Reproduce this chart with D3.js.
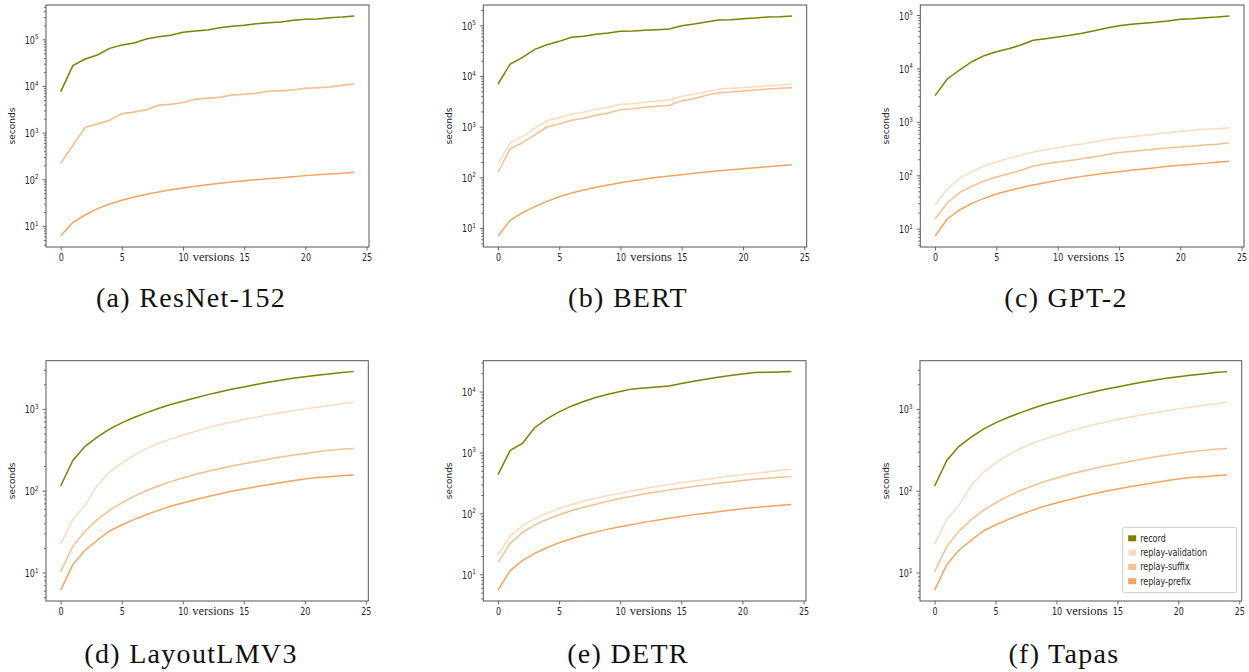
<!DOCTYPE html>
<html lang="en">
<head>
<meta charset="UTF-8">
<title>Record and replay time per version</title>
<script src="https://d3js.org/d3.v7.min.js"></script>
<style>
  body { margin: 0; background: #fff; }
  svg text { fill: #262626; font-family: "DejaVu Sans", sans-serif; }
  .tick line { stroke: #444; stroke-width: 0.8; }
  .domain { display: none; }
  .frame { fill: none; stroke: #555; stroke-width: 1; }
  .line { fill: none; stroke-width: 1.5; }
  .caption { font-family: "Liberation Serif", serif !important; font-size: 28px; letter-spacing: 1.3px; fill: #111 !important; text-anchor: middle; }
  .xlabel { font-family: "Liberation Serif", serif !important; font-size: 12.5px; text-anchor: middle; }
</style>
</head>
<body>
<svg id="svg" width="1249" height="672"></svg>
<script>
// x categories and series names
const versions = [0, 1, 2, 3, 4, 5, 6, 7, 8, 9, 10, 11, 12, 13, 14, 15, 16, 17, 18, 19, 20, 21, 22, 23, 24];
const xTicks = [0, 5, 10, 15, 20, 25];
const seriesNames = ["record", "replay-validation", "replay-suffix", "replay-prefix"];
const captions = ["(a) ResNet-152", "(b) BERT", "(c) GPT-2", "(d) LayoutLMV3", "(e) DETR", "(f) Tapas"];

// seconds per version
const resnetRecord = [7570, 27300, 37900, 46200, 64100, 75600, 83400, 101600, 114000, 121900, 141300, 150900, 158500, 177800, 190000, 199500, 216600, 227500, 235000, 255500, 268300, 272900, 291300, 301200, 316200];
const resnetValidation = [220, 535, 1300, 1535, 1840, 2550, 2770, 3110, 3850, 4050, 4400, 5180, 5440, 5710, 6410, 6630, 6960, 7690, 7940, 8200, 8910, 9200, 9520, 10330, 11040];
const resnetSuffix = [220, 535, 1300, 1535, 1840, 2550, 2770, 3110, 3850, 4050, 4400, 5180, 5440, 5710, 6410, 6630, 6960, 7690, 7940, 8200, 8910, 9200, 9520, 10330, 11040];
const resnetPrefix = [6.1, 12.0, 17.2, 23.5, 29.6, 35.5, 41.8, 47.7, 53.5, 60, 65.2, 70.8, 76.9, 82, 87.7, 93.6, 98.3, 103, 108.6, 114, 120, 126, 130, 134.5, 141];

const bertRecord = [6950, 17260, 23350, 33600, 41500, 48300, 57900, 60700, 66400, 70600, 76200, 77300, 79600, 82100, 84700, 98500, 106200, 116300, 127400, 129400, 135500, 139700, 146000, 148300, 152800];
const bertValidation = [189, 483, 635, 927, 1312, 1505, 1778, 1918, 2198, 2408, 2760, 2845, 3020, 3210, 3360, 3970, 4350, 4910, 5540, 5710, 5890, 6160, 6440, 6640, 6850];
const bertSuffix = [126, 368, 483, 685, 984, 1130, 1335, 1460, 1675, 1862, 2168, 2267, 2408, 2520, 2640, 3260, 3570, 4150, 4690, 4830, 5060, 5300, 5540, 5710, 5890];
const bertPrefix = [6.95, 14.2, 20.1, 26.4, 33.6, 41.5, 49.1, 56.2, 63.5, 70.6, 78.5, 86, 92.7, 100, 106, 113, 120, 127.5, 135.5, 141.6, 148, 155, 162.5, 170, 178];

const gpt2Record = [3090, 6340, 9340, 13360, 17330, 20590, 23440, 27430, 33560, 36060, 38730, 41610, 45380, 50900, 57100, 63100, 66850, 69800, 72900, 77200, 82970, 85400, 89200, 91800, 95800];
const gpt2Validation = [27.7, 55.3, 87.6, 116.7, 149, 177, 207, 236, 272, 301, 328, 358, 385, 425, 464, 498, 527, 559, 592, 627, 664, 694, 725, 745, 778];
const gpt2Suffix = [15.2, 30.3, 47.2, 62.1, 78, 92.7, 107, 124, 149, 162.5, 177, 190, 204, 223, 246, 268, 280, 293, 310, 324, 338, 353, 368, 379, 407];
const gpt2Prefix = [7.3, 15.2, 22.4, 29.8, 37, 44.6, 51.4, 58.6, 65.7, 72.6, 80.3, 87.6, 95.4, 102.6, 110, 116.7, 123.6, 131, 138.7, 147, 153.5, 160, 167, 174.6, 182.5];

const layoutRecord = [114, 234, 348, 451, 565, 675, 784, 894, 1009, 1130, 1240, 1361, 1482, 1611, 1738, 1855, 1981, 2115, 2237, 2368, 2477, 2572, 2672, 2775, 2853];
const layoutValidation = [22.2, 44.7, 66.2, 116, 169, 217, 270, 325, 378, 427, 477, 529, 586, 638, 688, 741, 791, 845, 894, 946, 1000, 1048, 1099, 1151, 1206];
const layoutSuffix = [10.2, 20.9, 31.9, 44.3, 57.5, 70.8, 85.4, 100, 114, 129, 143, 158, 172, 185, 200, 213, 228, 243, 258, 272, 285, 299, 311, 320, 328];
const layoutPrefix = [6.1, 12.5, 18.7, 24.8, 32.2, 38.1, 44.3, 50.9, 57.5, 64.4, 70.8, 77.6, 84.5, 91, 98.2, 104.8, 111.9, 118.4, 125.3, 132.5, 138.8, 144.5, 148.5, 152, 155];

const detrRecord = [432, 1081, 1409, 2543, 3570, 4650, 5750, 6860, 7980, 9040, 10000, 11060, 11480, 11920, 12380, 13520, 14760, 15920, 17170, 18290, 19460, 20470, 20720, 20990, 21240];
const detrValidation = [21.2, 42.4, 62.5, 81.5, 100.8, 120, 140, 158, 177, 196, 214, 236, 257, 278, 299, 320, 341, 363, 387, 411, 432, 455, 479, 504, 529];
const detrSuffix = [15.7, 32.1, 48.6, 64.1, 79.4, 94.6, 110, 126, 141.5, 158, 175, 191, 209, 225, 243, 258, 275, 293, 312, 328, 345, 363, 377, 391, 401];
const detrPrefix = [5.5, 11.5, 16.7, 22, 27.3, 33, 38.3, 44, 49.2, 55.1, 60.2, 65.8, 71.8, 77.4, 83.4, 88.9, 94.6, 100.8, 106, 112.8, 118.6, 124.7, 129.5, 134.5, 139.6];

const tapasRecord = [114, 234, 348, 451, 565, 675, 784, 894, 1009, 1130, 1240, 1361, 1482, 1611, 1738, 1855, 1981, 2115, 2237, 2368, 2477, 2572, 2672, 2775, 2853];
const tapasValidation = [22.2, 44.7, 66.2, 116, 169, 217, 270, 325, 378, 427, 477, 529, 586, 638, 688, 741, 791, 845, 894, 946, 1000, 1048, 1099, 1151, 1206];
const tapasSuffix = [10.2, 20.9, 31.9, 44.3, 57.5, 70.8, 85.4, 100, 114, 129, 143, 158, 172, 185, 200, 213, 228, 243, 258, 272, 285, 299, 311, 320, 328];
const tapasPrefix = [6.1, 12.5, 18.7, 24.8, 32.2, 38.1, 44.3, 50.9, 57.5, 64.4, 70.8, 77.6, 84.5, 91, 98.2, 104.8, 111.9, 118.4, 125.3, 132.5, 138.8, 144.5, 148.5, 152, 155];

const panelSeries = [
    [resnetRecord, resnetValidation, resnetSuffix, resnetPrefix],
    [bertRecord, bertValidation, bertSuffix, bertPrefix],
    [gpt2Record, gpt2Validation, gpt2Suffix, gpt2Prefix],
    [layoutRecord, layoutValidation, layoutSuffix, layoutPrefix],
    [detrRecord, detrValidation, detrSuffix, detrPrefix],
    [tapasRecord, tapasValidation, tapasSuffix, tapasPrefix]
];

// layout: axes boxes [left, top, right, bottom] and caption centers
const frames = [
    [46, 5, 369, 247], [483.3, 5, 806.7, 247], [920.3, 5, 1244, 247],
    [46, 360.7, 368.3, 601], [483.3, 360.7, 806, 601], [920, 360.7, 1241.7, 601]
];
const captionX = [191, 628, 1066, 191, 628, 1064];
const captionY = [306.7, 306.7, 306.7, 663.3, 663.3, 663.3];

const colors = ["#808000", "#fbdbbf", "#f7bf90", "#f4a460"];
const SX = 0.8; // the original panels are squeezed horizontally

const svg = d3.select("#svg");

panelSeries.forEach((series, p) => {
    const [l, t, r, b] = frames[p];
    const g = svg.append("g");

    const x = d3.scaleLinear().domain([-1.2, 25.2]).range([l, r]);

    // matplotlib style 5% margin in log space
    const all = series.flat();
    const lo = Math.log10(d3.min(all)), hi = Math.log10(d3.max(all));
    const pad = (hi - lo) * 0.05;
    const y = d3.scaleLog().domain([Math.pow(10, lo - pad), Math.pow(10, hi + pad)]).range([b, t]);

    const [dmin, dmax] = y.domain();
    const majors = [], minors = [];
    for (let e = Math.floor(Math.log10(dmin)); e <= Math.ceil(Math.log10(dmax)); e++) {
        for (let k = 1; k <= 9; k++) {
            const v = k * Math.pow(10, e);
            if (v < dmin || v > dmax) continue;
            (k === 1 ? majors : minors).push(v);
        }
    }

    // lines
    const line = d3.line().x((d, i) => x(versions[i])).y(d => y(d));
    g.selectAll(".line")
        .data(series)
        .enter().append("path")
        .attr("class", "line")
        .attr("stroke", (d, i) => colors[i])
        .attr("d", line);

    // x axis
    const xa = g.append("g")
        .attr("transform", `translate(0,${b})`)
        .call(d3.axisBottom(x).tickValues(xTicks).tickSize(3.5).tickFormat(d => d));
    xa.selectAll(".tick text")
        .attr("x", null).attr("y", null).attr("dy", null)
        .attr("font-size", 10)
        .attr("transform", `translate(0,13.8) scale(${SX},1)`);

    // y axis, minor then major
    g.append("g")
        .attr("transform", `translate(${l},0)`)
        .call(d3.axisLeft(y).tickValues(minors).tickSize(2).tickFormat(""));
    const ya = g.append("g")
        .attr("transform", `translate(${l},0)`)
        .call(d3.axisLeft(y).tickValues(majors).tickSize(3.5).tickFormat(""));
    ya.selectAll(".tick text")
        .attr("x", null).attr("dy", null)
        .attr("font-size", 10)
        .attr("transform", `translate(-7.5,4) scale(${SX},1)`)
        .each(function (d) {
            const txt = d3.select(this);
            txt.append("tspan").text("10");
            txt.append("tspan").attr("font-size", 7).attr("dy", -4.5).text(Math.round(Math.log10(d)));
        });

    g.append("rect")
        .attr("class", "frame")
        .attr("x", l).attr("y", t)
        .attr("width", r - l).attr("height", b - t);

    g.append("text")
        .attr("class", "xlabel")
        .attr("x", (l + r) / 2 + 6)
        .attr("y", b + 14)
        .text("versions");

    g.append("text")
        .attr("transform", `translate(${l - 31},${(t + b) / 2}) rotate(-90)`)
        .attr("text-anchor", "middle")
        .attr("font-size", 9)
        .text("seconds");

    svg.append("text")
        .attr("class", "caption")
        .attr("x", captionX[p])
        .attr("y", captionY[p])
        .text(captions[p]);

    // legend only in the last panel
    if (p === 5) {
        const lg = g.append("g").attr("transform", "translate(1122.7,527.3)");
        lg.append("rect")
            .attr("width", 114).attr("height", 65.4)
            .attr("rx", 2)
            .attr("fill", "#fff").attr("fill-opacity", 0.8)
            .attr("stroke", "#ccc");
        seriesNames.forEach((name, i) => {
            const row = lg.append("g").attr("transform", `translate(0,${11 + i * 14.3})`);
            row.append("rect")
                .attr("x", 5.5).attr("y", -3)
                .attr("width", 8).attr("height", 6)
                .attr("fill", colors[i]);
            row.append("text")
                .attr("font-size", 10)
                .attr("transform", `translate(17.5,3.5) scale(${SX},1)`)
                .text(name);
        });
    }
});
</script>
</body>
</html>
